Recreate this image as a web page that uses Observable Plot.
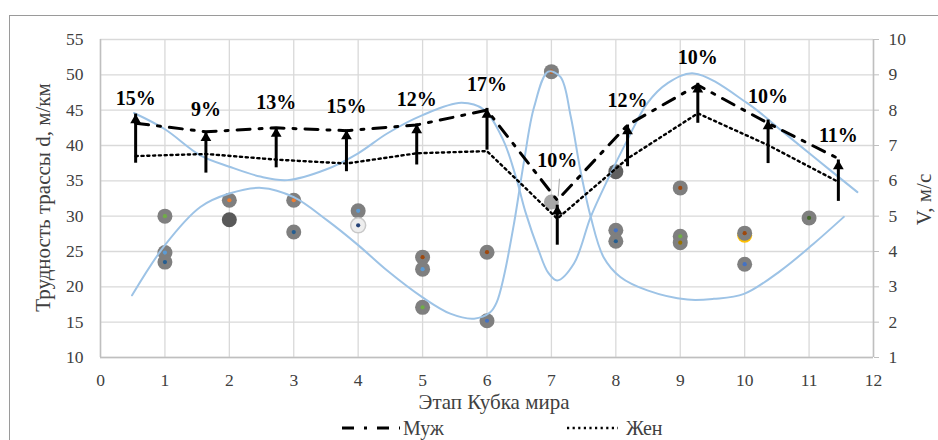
<!DOCTYPE html>
<html>
<head>
<meta charset="utf-8">
<script src="https://cdn.jsdelivr.net/npm/d3@7"></script>
<script src="https://cdn.jsdelivr.net/npm/@observablehq/plot@0.6"></script>
<style>
  body { margin: 0; background: #fff; }
  #wrap { position: relative; width: 938px; height: 440px; overflow: hidden; background: #fff; font-family: "Liberation Serif", "Times New Roman", "DejaVu Serif", serif; }
  #frame { position: absolute; left: 9px; top: 15px; width: 1000px; height: 1000px; border: 1.5px solid #9a9a9a; box-sizing: border-box; }
  #chart { position: absolute; left: 0; top: 0; }
  #legend { position: absolute; left: 0; top: 415px; }
  svg text { font-family: "Liberation Serif", "Times New Roman", "DejaVu Serif", serif; }
</style>
</head>
<body>
<div id="wrap">
  <div id="frame"></div>
  <div id="chart"></div>
  <div id="legend"></div>
</div>
<script>
// ---- Data ----
// Stages (secondary category axis) – speeds V, m/s
const stages = [1, 2, 3, 4, 5, 6, 7, 8, 9, 10, 11];
const menV   = [7.63, 7.39, 7.50, 7.42, 7.58, 8.00, 5.45, 7.58, 8.71, 7.63, 6.63];
const womenV = [6.70, 6.76, 6.60, 6.49, 6.78, 6.84, 4.93, 6.63, 7.91, 7.01, 5.97];
const pctLabels = ["15%", "9%", "13%", "15%", "12%", "17%", "10%", "12%", "10%", "10%", "11%"];
const arrowFromV = [6.64, 6.36, 6.51, 6.40, 6.59, 7.01, 4.32, 6.54, 7.77, 6.63, 5.56];
const arrowToV   = [7.89, 7.39, 7.51, 7.44, 7.61, 8.05, 5.31, 7.58, 8.76, 7.72, 6.59];
const labelV     = [8.33, 8.03, 8.21, 8.10, 8.31, 8.71, 6.56, 8.27, 9.50, 8.38, 7.27];

// Track difficulty d, m/km (scatter by stage)
const ptX = [1, 1, 1, 2, 2, 3, 3, 4, 4, 5, 5, 5, 6, 6, 7, 7, 8, 8, 8, 9, 9, 9, 10, 10, 10, 11];
const ptY = [30.0, 24.85, 23.5, 32.25, 29.5, 32.25, 27.75, 30.75, 28.7, 24.2, 22.5, 17.1, 24.9, 15.2, 50.45, 32.0, 36.3, 28.0, 26.45, 34.0, 27.15, 26.25, 27.3, 27.6, 23.2, 29.75];
const ptFill = ["#7f7f7f", "#7f7f7f", "#7f7f7f", "#7f7f7f", "#595959", "#7f7f7f", "#7f7f7f", "#7f7f7f", "#eeeeee", "#7f7f7f", "#7f7f7f", "#7f7f7f", "#7f7f7f", "#7f7f7f", "#7f7f7f", "#a6a6a6", "#606060", "#7f7f7f", "#7f7f7f", "#7f7f7f", "#7f7f7f", "#7f7f7f", "#ffc000", "#7f7f7f", "#7f7f7f", "#7f7f7f"];
const ptInner = ["#70ad47", "#5b9bd5", "#255e91", "#ed7d31", null, "#ed7d31", "#255e91", "#5b9bd5", "#264478", "#9e480e", "#5b9bd5", "#70ad47", "#9e480e", "#4472c4", "#c55a11", null, null, "#4472c4", "#255e91", "#9e480e", "#70ad47", "#997300", null, "#9e480e", "#4472c4", "#43682b"];

// Smoothed blue curves
const curveAX = [0.52, 1.0, 1.55, 2.0, 2.48, 2.9, 3.5, 4.0, 4.45, 5.0, 5.6, 5.95, 6.25, 6.45, 6.6, 6.8, 6.95, 7.09, 7.35, 7.61, 7.87, 8.18, 8.49, 8.8, 9.21, 10.04, 10.56, 11.07, 11.75];
const curveAY = [44.6, 42.3, 38.6, 37.0, 35.6, 35.1, 36.6, 38.9, 41.7, 44.3, 46.05, 45.1, 40.8, 35.5, 30.5, 25.2, 22.0, 20.9, 23.3, 29.9, 35.1, 40.8, 46.0, 48.8, 50.2, 46.0, 42.2, 38.4, 33.4];
const curveBX = [0.49, 1.0, 1.55, 2.0, 2.5, 3.0, 3.52, 4.0, 4.45, 5.0, 5.43, 5.8, 6.05, 6.15, 6.26, 6.42, 6.57, 6.73, 6.95, 7.14, 7.3, 7.45, 7.61, 7.81, 8.07, 8.49, 9.11, 9.52, 9.99, 10.56, 11.07, 11.54];
const curveBY = [18.8, 25.9, 31.3, 33.2, 34.0, 32.7, 29.4, 25.9, 22.3, 18.5, 16.2, 15.5, 16.4, 17.8, 21.4, 29.0, 37.5, 45.4, 50.45, 49.7, 44.1, 36.5, 29.9, 24.2, 21.4, 19.5, 18.2, 18.3, 19.0, 22.3, 26.1, 29.9];

const leftTicks = [10, 15, 20, 25, 30, 35, 40, 45, 50, 55];
const xTicks = [0, 1, 2, 3, 4, 5, 6, 7, 8, 9, 10, 11, 12];

// ---- Helpers ----
const vToD = v => 10 + (v - 1) * 5;               // right axis (V 1..10) -> left axis (d 10..55)
const stageX = i => (i - 0.5) * 12 / stages.length; // secondary category axis position

const lineData = stages.map((s, i) => ({
  x: stageX(s), men: vToD(menV[i]), women: vToD(womenV[i]),
  from: vToD(arrowFromV[i]), to: vToD(arrowToV[i]), lab: vToD(labelV[i]), pct: pctLabels[i]
}));
const pts = ptX.map((x, i) => ({x, y: ptY[i], fill: ptFill[i], inner: ptInner[i]}));
const curveA = curveAX.map((x, i) => ({x, y: curveAY[i]}));
const curveB = curveBX.map((x, i) => ({x, y: curveBY[i]}));

const TXT = "#404040";
const FONT = "'Liberation Serif', 'Times New Roman', 'DejaVu Serif', serif";

const chart = Plot.plot({
  width: 938,
  height: 415,
  marginLeft: 100,
  marginRight: 65,
  marginTop: 39,
  marginBottom: 58,
  x: {domain: [0, 12]},
  y: {domain: [10, 55]},
  style: {fontFamily: FONT, fontSize: "17.5px", background: "transparent", color: TXT},
  marks: [
    Plot.gridX(xTicks, {stroke: "#d9d9d9", strokeOpacity: 1, strokeWidth: 1.3}),
    Plot.gridY(leftTicks, {stroke: "#d9d9d9", strokeOpacity: 1, strokeWidth: 1.3}),
    Plot.ruleX([0, 12], {stroke: "#bfbfbf", strokeWidth: 1.5}),
    Plot.ruleY([10], {stroke: "#bfbfbf", strokeWidth: 1.5}),
    Plot.axisX(xTicks, {anchor: "bottom", tickSize: 0, tickPadding: 16, label: null, fill: TXT}),
    Plot.axisY(leftTicks, {anchor: "left", tickSize: 0, tickPadding: 17, label: null, fill: TXT}),
    Plot.axisY(leftTicks, {anchor: "right", tickSize: 5, tickPadding: 10, label: null, stroke: "#bfbfbf", fill: TXT,
      tickFormat: d => String((d - 10) / 5 + 1)}),
    // axis titles
    Plot.text(["Этап Кубка мира"], {frameAnchor: "bottom", textAnchor: "middle", dx: 7, dy: 51, fontSize: 21, fill: TXT}),
    Plot.text(["Трудность трассы d, м/км"], {frameAnchor: "left", textAnchor: "middle", dx: -57, dy: -1, rotate: -90, fontSize: 21, fill: TXT}),
    Plot.text(["V, м/с"], {frameAnchor: "right", textAnchor: "middle", dx: 51, dy: 1, rotate: -90, fontSize: 21, fill: TXT}),
    // scatter: difficulty
    Plot.dot(pts, {x: "x", y: "y", r: 7.5, fill: "fill", stroke: d => d.fill === "#eeeeee" ? "#c8c8c8" : "none"}),
    Plot.dot(pts.filter(d => d.inner), {x: "x", y: "y", r: 2.1, fill: "inner"}),
    // blue smoothed curves
    Plot.line(curveA, {x: "x", y: "y", curve: "catmull-rom", stroke: "#9dc3e6", strokeWidth: 2}),
    Plot.line(curveB, {x: "x", y: "y", curve: "catmull-rom", stroke: "#9dc3e6", strokeWidth: 2}),
    // speed lines
    Plot.line(lineData, {x: "x", y: "women", stroke: "#000", strokeWidth: 2.4, strokeDasharray: "2.2,3.6"}),
    Plot.line(lineData, {x: "x", y: "men", stroke: "#000", strokeWidth: 3, strokeDasharray: "13,9,3,9"}),
    // arrows
    Plot.ruleX(lineData, {x: "x", y1: "from", y2: "to", stroke: "#000", strokeWidth: 3, insetTop: 5}),
    Plot.dot(lineData, {x: "x", y: "to", symbol: "triangle", r: 4, fill: "#000", dy: 6.2}),
    // leader line for label at stage 7
    Plot.link([{x1: 7.125, y1: 35.3, x2: 7.105, y2: 32.8}], {x1: "x1", y1: "y1", x2: "x2", y2: "y2", stroke: "#a6a6a6", strokeWidth: 1}),
    // percentage labels
    Plot.text(lineData, {x: "x", y: "lab", text: "pct", fontWeight: "bold", fontSize: 20, fill: "#000"})
  ]
});
document.getElementById("chart").appendChild(chart);

// ---- Legend (below the plot) ----
const leg = d3.select("#legend").append("svg").attr("width", 938).attr("height", 25);
leg.append("line").attr("x1", 342).attr("x2", 400).attr("y1", 13).attr("y2", 13)
  .attr("stroke", "#000").attr("stroke-width", 3).attr("stroke-dasharray", "12,10,3,10");
leg.append("text").attr("x", 403).attr("y", 13).attr("dy", "0.35em").attr("font-size", 20)
  .attr("font-family", FONT).attr("fill", TXT).text("Муж");
leg.append("line").attr("x1", 567).attr("x2", 618).attr("y1", 13).attr("y2", 13)
  .attr("stroke", "#000").attr("stroke-width", 2.4).attr("stroke-dasharray", "2.2,3.4");
leg.append("text").attr("x", 626).attr("y", 13).attr("dy", "0.35em").attr("font-size", 20)
  .attr("font-family", FONT).attr("fill", TXT).text("Жен");
</script>
</body>
</html>
